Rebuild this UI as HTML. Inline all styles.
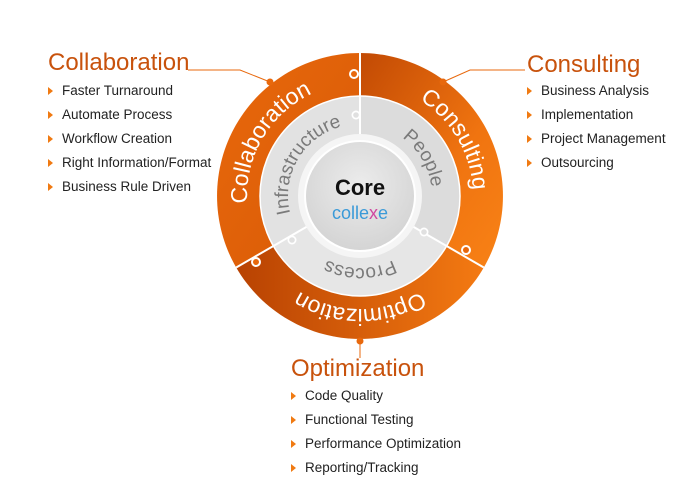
<!DOCTYPE html>
<html><head><meta charset="utf-8"><style>
body{margin:0;background:#fff;width:689px;height:498px;overflow:hidden;font-family:"Liberation Sans",sans-serif;position:relative}
.t{position:absolute;color:#c8520c;font-size:24px}
.l{position:absolute;font-size:13.5px;color:#222;line-height:24px;margin:0;padding:0;list-style:none}
.l li{position:relative;padding-left:14px}
.l li:before{content:"";position:absolute;left:0;top:8px;border-left:5px solid #f07a12;border-top:4px solid transparent;border-bottom:4px solid transparent}
</style></head><body>
<svg width="689" height="498" style="position:absolute;left:0;top:0">
<defs>
<linearGradient id="o1" x1="0" y1="0" x2="1" y2="1"><stop offset="0" stop-color="#e8680c"/><stop offset="1" stop-color="#d85a06"/></linearGradient>
<linearGradient id="o2" x1="0" y1="0" x2="1" y2="1"><stop offset="0" stop-color="#c24a04"/><stop offset="0.6" stop-color="#f07410"/><stop offset="1" stop-color="#f88216"/></linearGradient>
<linearGradient id="o3" x1="0" y1="0" x2="1" y2="0"><stop offset="0" stop-color="#b84202"/><stop offset="1" stop-color="#f47a12"/></linearGradient>
<radialGradient id="cg" cx="0.5" cy="0.4" r="0.6"><stop offset="0" stop-color="#ececec"/><stop offset="1" stop-color="#d4d4d4"/></radialGradient>
<path id="p1" d="M473,196 A113,113 0 1,1 247,196 A113,113 0 1,1 473,196"/>
<path id="p2" d="M432,196 A72,72 0 1,1 288,196 A72,72 0 1,1 432,196"/>
</defs>
<polyline points="188,70 240,70 270,82" fill="none" stroke="#e8680c" stroke-width="1"/>
<polyline points="443,82 470,70 525,70" fill="none" stroke="#e8680c" stroke-width="1"/>
<line x1="360" y1="342" x2="360" y2="358" stroke="#e8680c"/>
<path d="M360,196 L360,53 A143,143 0 0,1 483.8,267.5 Z" fill="url(#o2)"/>
<path d="M360,196 L483.8,267.5 A143,143 0 0,1 236.2,267.5 Z" fill="url(#o3)"/>
<path d="M360,196 L236.2,267.5 A143,143 0 0,1 360,53 Z" fill="url(#o1)"/>
<circle cx="270" cy="82" r="3.5" fill="#e8680c"/>
<circle cx="443" cy="82" r="3.5" fill="#e8680c"/>
<circle cx="360" cy="341" r="3.5" fill="#e8680c"/>
<circle cx="360" cy="196" r="100" fill="#e2e2e2"/>
<path d="M360,196 L360,96 A100,100 0 0,1 446.6,246 Z" fill="#dcdcdc"/>
<path d="M360,196 L446.6,246 A100,100 0 0,1 273.4,246 Z" fill="#e6e6e6"/>
<g stroke="#fff" stroke-width="2">
<line x1="360" y1="53" x2="360" y2="136"/>
<line x1="412" y1="226" x2="483.8" y2="267.5"/>
<line x1="308" y1="226" x2="236.2" y2="267.5"/>
</g>
<circle cx="360" cy="196" r="100" fill="none" stroke="#fff" stroke-width="1.5"/>
<g fill="#fff">
<circle cx="354" cy="74" r="5"/><circle cx="356" cy="115" r="4.5"/>
<circle cx="466" cy="250" r="5"/><circle cx="424" cy="232" r="4.5"/>
<circle cx="256" cy="262" r="5"/><circle cx="292" cy="240" r="4.5"/>
</g>
<g fill="#e8680c"><circle cx="354" cy="74" r="3"/><circle cx="466" cy="250" r="3"/><circle cx="256" cy="262" r="3"/></g>
<g fill="#e0e0e0"><circle cx="356" cy="115" r="2.8"/><circle cx="424" cy="232" r="2.8"/><circle cx="292" cy="240" r="2.8"/></g>
<circle cx="360" cy="196" r="62" fill="#f5f5f5"/>
<circle cx="360" cy="196" r="55" fill="url(#cg)" stroke="#fff" stroke-width="2"/>
<text x="360" y="195" text-anchor="middle" font-size="22" font-weight="bold" fill="#111">Core</text>
<text x="360" y="219" text-anchor="middle" font-size="18" fill="#3a9ad8">colle<tspan fill="#d048a0">x</tspan>e</text>
<g font-size="23" fill="#fff">
<text><textPath href="#p1" startOffset="58.5%" text-anchor="middle">Collaboration</textPath></text>
<text><textPath href="#p1" startOffset="91.5%" text-anchor="middle">Consulting</textPath></text>
<text><textPath href="#p1" startOffset="25%" text-anchor="middle">Optimization</textPath></text>
</g>
<g font-size="19" fill="#7a7a7a">
<text><textPath href="#p2" startOffset="58.5%" text-anchor="middle">Infrastructure</textPath></text>
<text><textPath href="#p2" startOffset="91.5%" text-anchor="middle">People</textPath></text>
<text><textPath href="#p2" startOffset="25%" text-anchor="middle">Process</textPath></text>
</g>
</svg>
<div class="t" style="left:48px;top:49px">Collaboration</div>
<ul class="l" style="left:48px;top:79px"><li>Faster Turnaround</li><li>Automate Process</li><li>Workflow Creation</li><li>Right Information/Format</li><li>Business Rule Driven</li></ul>
<div class="t" style="left:527px;top:51px">Consulting</div>
<ul class="l" style="left:527px;top:79px"><li>Business Analysis</li><li>Implementation</li><li>Project Management</li><li>Outsourcing</li></ul>
<div class="t" style="left:291px;top:355px">Optimization</div>
<ul class="l" style="left:291px;top:384px"><li>Code Quality</li><li>Functional Testing</li><li>Performance Optimization</li><li>Reporting/Tracking</li></ul>
</body></html>
